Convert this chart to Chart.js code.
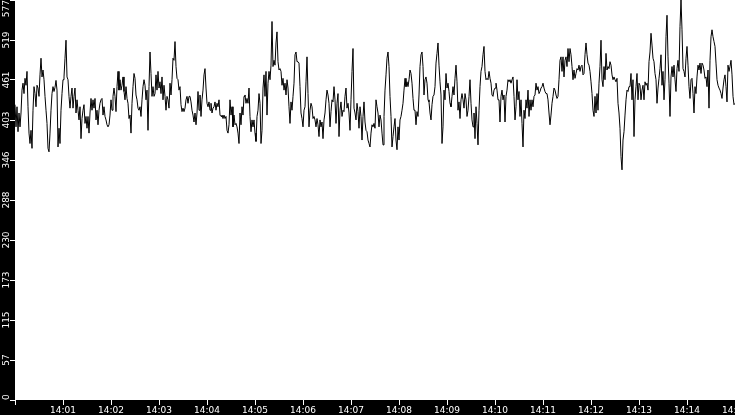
<!DOCTYPE html>
<html>
<head>
<meta charset="utf-8">
<script src="https://cdn.jsdelivr.net/npm/chart.js@4.4.1/dist/chart.umd.min.js"></script>
<style>
  html, body { margin: 0; padding: 0; background: #fff; }
  canvas { display: block; }
</style>
</head>
<body>
<canvas id="rateChart" width="735" height="415"></canvas>
<script>
// seconds after 14:00:00 covered by the trace
var startSec = 0;
var endSec = 900;

var xTickLabels = ['', '14:01', '14:02', '14:03', '14:04', '14:05', '14:06', '14:07',
  '14:08', '14:09', '14:10', '14:11', '14:12', '14:13', '14:14', '14:15'];

var yMax = 577;
var yTickLabels = ['0', '57', '115', '173', '230', '288', '346', '403', '461', '519', '577'];

// samples, left to right
var values = [
  426,394,423,387,414,394,414,447,457,442,464,454,474,423,385,370,389,363,418,452,
  442,423,454,450,438,469,493,466,476,462,438,418,399,363,358,385,418,442,452,445,
  451,461,447,365,392,370,418,442,462,466,493,519,466,462,438,421,438,450,421,438,
  450,414,433,418,404,423,377,406,418,426,399,409,392,409,385,414,435,418,433,421,
  435,404,418,397,418,428,433,435,411,423,409,404,397,394,397,411,433,418,438,450,
  438,416,452,474,447,462,447,454,466,445,433,452,435,428,406,411,385,428,452,471,
  464,440,433,421,418,423,409,433,452,462,454,433,447,389,452,502,471,438,452,438,
  442,469,447,474,450,459,442,466,433,454,438,418,438,433,421,457,440,462,493,490,
  517,481,464,462,447,452,426,416,421,416,421,433,438,428,438,438,430,418,411,401,
  414,397,414,445,418,440,409,433,447,469,478,450,428,423,430,418,428,414,421,423,
  430,418,428,423,433,411,409,411,406,411,406,409,389,385,397,433,411,423,394,411,
  397,399,394,385,370,414,397,423,411,438,440,428,
  435,428,450,409,387,404,394,404,385,373,409,418,442,428,370,389,450,469,438,474,
  411,457,474,462,483,546,481,490,483,515,531,488,476,478,474,454,464,447,457,440,
  462,450,423,399,430,418,438,457,498,502,488,488,486,452,414,406,394,418,423,459,
  495,442,394,418,428,423,406,409,404,394,406,397,380,404,394,401,377,404,414,433,
  447,440,428,394,416,433,430,452,433,399,428,442,380,418,430,409,418,416,438,450,
  421,428,414,389,433,474,507,421,414,404,428,416,392,423,409,375,409,430,401,389,
  387,375,370,365,385,397,394,399,392,433,423,414,394,411,404,385,368,409,447,469,
  493,502,481,438,409,365,380,394,406,375,361,394,375,404,409,418,428,447,464,452,
  459,452,462,476,471,457,435,418,418,397,416,409,440,481,498,502,481,440,462,466,
  457,433,430,414,404,426,438,440,452,486,500,515,483,459,440,370,394,447,433,471,
  450,457,445,428,423,438,452,440,464,483,459,418,430,406,433,442,433,421,442,433,
  409,418,438,462,428,404,394,414,377,423,399,368,418,452,474,481,498,510,474,462,
  464,462,474,464,457,440,438,447,450,457,447,433,433,401,438,447,433,440,401,438,
  447,462,459,462,457,462,466,438,404,423,462,433,445,409,433,399,365,418,406,433,
  421,447,409,433,418,433,423,438,440,457,447,452,442,445,450,452,457,450,445,442,
  442,433,414,397,411,428,438,450,447,440,435,438,462,490,495,474,495,466,490,495,
  481,507,488,507,498,481,462,476,464,471,478,476,483,474,481,483,469,471,498,515,
  498,486,483,474,459,442,418,409,438,414,442,418,457,481,519,462,452,481,462,500,
  476,481,478,488,483,469,462,466,462,459,464,428,414,392,351,332,375,387,411,433,
  447,445,452,452,471,433,462,380,433,452,471,433,457,454,433,447,454,433,459,454,
  457,447,488,502,529,512,493,488,471,462,428,450,464,478,498,454,474,433,462,524,
  555,495,457,409,466,481,466,483,462,445,478,490,474,539,577,534,478,474,466,493,
  510,483,452,435,462,464,442,414,452,442,466,483,476,486,471,486,483,476,464,466,
  452,476,421,490,524,534,524,517,510,486,462,454,450,447,442,435,450,462,469,452,
  430,483,474,481,490,469,438,426,428
];

var labelFont = '9px "DejaVu Sans"';

var points = values.map(function (v, i) {
  return { x: startSec + i * (endSec - startSec) / (values.length - 1), y: v };
});

// black axis strips and the rotated value labels
var axisBands = {
  id: 'axisBands',
  beforeDraw: function (chart) {
    var ctx = chart.ctx, a = chart.chartArea;
    ctx.save();
    ctx.fillStyle = '#fff';
    ctx.fillRect(0, 0, chart.width, chart.height);
    ctx.fillStyle = '#000';
    ctx.fillRect(0, 0, a.left, chart.height);
    ctx.fillRect(0, a.bottom, chart.width, chart.height - a.bottom);
    ctx.restore();
  },
  afterDraw: function (chart) {
    var ctx = chart.ctx, a = chart.chartArea, yScale = chart.scales.y;
    ctx.save();
    ctx.font = labelFont;
    ctx.fillStyle = '#fff';
    ctx.textAlign = 'center';
    ctx.textBaseline = 'alphabetic';
    yTickLabels.forEach(function (lbl, i) {
      var half = ctx.measureText(lbl).width / 2;
      var cy = yScale.getPixelForValue(i * yMax / (yTickLabels.length - 1));
      cy = Math.max(a.top + half, Math.min(a.bottom - half, cy));
      ctx.save();
      ctx.translate(9, cy);
      ctx.rotate(-Math.PI / 2);
      ctx.fillText(lbl, 0, 0);
      ctx.restore();
    });
    ctx.restore();
  }
};

new Chart(document.getElementById('rateChart'), {
  type: 'line',
  data: {
    datasets: [{
      data: points,
      borderColor: '#000',
      borderWidth: 1,
      pointRadius: 0,
      tension: 0,
      fill: false
    }]
  },
  options: {
    responsive: false,
    animation: false,
    devicePixelRatio: 1,
    layout: { padding: 0 },
    plugins: {
      legend: { display: false },
      tooltip: { enabled: false }
    },
    scales: {
      x: {
        type: 'linear',
        min: startSec,
        max: endSec,
        border: { display: false },
        grid: { drawOnChartArea: false, color: '#fff', tickLength: 5 },
        afterBuildTicks: function (scale) {
          scale.ticks = xTickLabels.map(function (l, i) { return { value: i * 60 }; });
        },
        ticks: {
          color: '#fff',
          font: { family: 'DejaVu Sans', size: 9 },
          padding: 0,
          maxRotation: 0,
          minRotation: 0,
          autoSkip: false,
          callback: function (v, i) { return xTickLabels[i]; }
        },
        afterFit: function (scale) {
          scale.height = 15;
          scale.paddingLeft = 0;
          scale.paddingRight = 0;
        }
      },
      y: {
        min: 0,
        max: yMax,
        border: { display: false },
        grid: { drawOnChartArea: false, color: '#fff', tickLength: 5 },
        afterBuildTicks: function (scale) {
          scale.ticks = yTickLabels.map(function (l, i) {
            return { value: i * yMax / (yTickLabels.length - 1) };
          });
        },
        ticks: { display: false },
        afterFit: function (scale) {
          scale.width = 15;
          scale.paddingTop = 0;
          scale.paddingBottom = 0;
        }
      }
    }
  },
  plugins: [axisBands]
});
</script>
</body>
</html>
